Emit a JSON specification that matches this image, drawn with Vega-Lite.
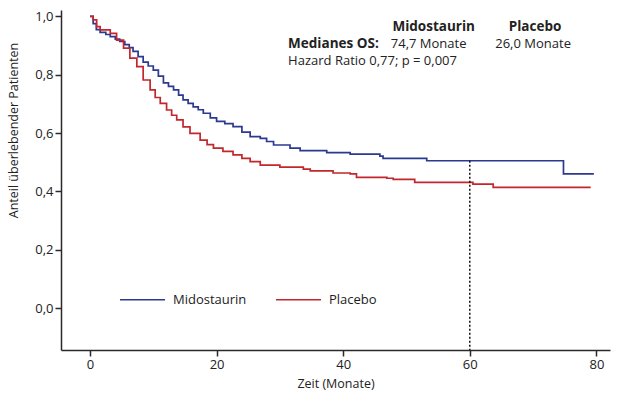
{
  "$schema": "https://vega.github.io/schema/vega-lite/v6.json",
  "width": 549,
  "height": 340,
  "autosize": {"type": "none"},
  "padding": {"left": 61, "top": 10, "right": 10, "bottom": 46},
  "background": "white",
  "config": {
    "view": {"stroke": null},
    "font": "Open Sans",
    "axis": {
      "grid": false,
      "domainColor": "#2a2a2a",
      "tickColor": "#2a2a2a",
      "domainWidth": 1.5,
      "tickWidth": 1.5,
      "tickSize": 6,
      "labelFont": "Open Sans",
      "labelFontSize": 13,
      "labelColor": "#222222",
      "titleFont": "Open Sans",
      "titleFontSize": 12.5,
      "titleFontWeight": "normal",
      "titleColor": "#222222"
    }
  },
  "layer": [
    {
      "data": {
        "values": [
          {"t": 0, "s": 1.0, "g": "Midostaurin"},
          {"t": 0.5, "s": 0.975, "g": "Midostaurin"},
          {"t": 1.0, "s": 0.955, "g": "Midostaurin"},
          {"t": 1.6, "s": 0.945, "g": "Midostaurin"},
          {"t": 2.5, "s": 0.938, "g": "Midostaurin"},
          {"t": 3.2, "s": 0.931, "g": "Midostaurin"},
          {"t": 4.0, "s": 0.922, "g": "Midostaurin"},
          {"t": 4.7, "s": 0.914, "g": "Midostaurin"},
          {"t": 5.5, "s": 0.903, "g": "Midostaurin"},
          {"t": 6.2, "s": 0.893, "g": "Midostaurin"},
          {"t": 6.8, "s": 0.880, "g": "Midostaurin"},
          {"t": 7.6, "s": 0.862, "g": "Midostaurin"},
          {"t": 8.4, "s": 0.843, "g": "Midostaurin"},
          {"t": 9.2, "s": 0.830, "g": "Midostaurin"},
          {"t": 10.0, "s": 0.816, "g": "Midostaurin"},
          {"t": 10.8, "s": 0.795, "g": "Midostaurin"},
          {"t": 11.6, "s": 0.772, "g": "Midostaurin"},
          {"t": 12.4, "s": 0.760, "g": "Midostaurin"},
          {"t": 13.2, "s": 0.748, "g": "Midostaurin"},
          {"t": 14.0, "s": 0.730, "g": "Midostaurin"},
          {"t": 14.7, "s": 0.714, "g": "Midostaurin"},
          {"t": 15.5, "s": 0.702, "g": "Midostaurin"},
          {"t": 16.3, "s": 0.690, "g": "Midostaurin"},
          {"t": 17.1, "s": 0.680, "g": "Midostaurin"},
          {"t": 17.9, "s": 0.668, "g": "Midostaurin"},
          {"t": 19.0, "s": 0.652, "g": "Midostaurin"},
          {"t": 20.0, "s": 0.640, "g": "Midostaurin"},
          {"t": 21.3, "s": 0.632, "g": "Midostaurin"},
          {"t": 22.6, "s": 0.622, "g": "Midostaurin"},
          {"t": 24.0, "s": 0.603, "g": "Midostaurin"},
          {"t": 25.3, "s": 0.588, "g": "Midostaurin"},
          {"t": 26.9, "s": 0.582, "g": "Midostaurin"},
          {"t": 27.9, "s": 0.571, "g": "Midostaurin"},
          {"t": 29.0, "s": 0.559, "g": "Midostaurin"},
          {"t": 31.6, "s": 0.548, "g": "Midostaurin"},
          {"t": 33.2, "s": 0.540, "g": "Midostaurin"},
          {"t": 37.4, "s": 0.533, "g": "Midostaurin"},
          {"t": 41.1, "s": 0.528, "g": "Midostaurin"},
          {"t": 45.8, "s": 0.521, "g": "Midostaurin"},
          {"t": 46.3, "s": 0.513, "g": "Midostaurin"},
          {"t": 53.2, "s": 0.505, "g": "Midostaurin"},
          {"t": 74.8, "s": 0.460, "g": "Midostaurin"},
          {"t": 79.6, "s": 0.460, "g": "Midostaurin"},
          {"t": 0, "s": 1.0, "g": "Placebo"},
          {"t": 0.5, "s": 0.988, "g": "Placebo"},
          {"t": 1.05, "s": 0.965, "g": "Placebo"},
          {"t": 1.6, "s": 0.954, "g": "Placebo"},
          {"t": 3.2, "s": 0.942, "g": "Placebo"},
          {"t": 4.2, "s": 0.919, "g": "Placebo"},
          {"t": 5.3, "s": 0.891, "g": "Placebo"},
          {"t": 6.3, "s": 0.857, "g": "Placebo"},
          {"t": 7.4, "s": 0.828, "g": "Placebo"},
          {"t": 8.4, "s": 0.782, "g": "Placebo"},
          {"t": 9.5, "s": 0.748, "g": "Placebo"},
          {"t": 10.3, "s": 0.722, "g": "Placebo"},
          {"t": 11.1, "s": 0.702, "g": "Placebo"},
          {"t": 12.1, "s": 0.679, "g": "Placebo"},
          {"t": 12.9, "s": 0.661, "g": "Placebo"},
          {"t": 13.7, "s": 0.645, "g": "Placebo"},
          {"t": 14.7, "s": 0.621, "g": "Placebo"},
          {"t": 15.8, "s": 0.599, "g": "Placebo"},
          {"t": 17.4, "s": 0.576, "g": "Placebo"},
          {"t": 18.5, "s": 0.560, "g": "Placebo"},
          {"t": 19.5, "s": 0.548, "g": "Placebo"},
          {"t": 21.0, "s": 0.537, "g": "Placebo"},
          {"t": 22.6, "s": 0.525, "g": "Placebo"},
          {"t": 24.0, "s": 0.513, "g": "Placebo"},
          {"t": 25.3, "s": 0.502, "g": "Placebo"},
          {"t": 26.9, "s": 0.490, "g": "Placebo"},
          {"t": 30.0, "s": 0.483, "g": "Placebo"},
          {"t": 33.7, "s": 0.476, "g": "Placebo"},
          {"t": 34.8, "s": 0.470, "g": "Placebo"},
          {"t": 38.4, "s": 0.463, "g": "Placebo"},
          {"t": 41.1, "s": 0.460, "g": "Placebo"},
          {"t": 42.1, "s": 0.448, "g": "Placebo"},
          {"t": 46.9, "s": 0.445, "g": "Placebo"},
          {"t": 47.9, "s": 0.441, "g": "Placebo"},
          {"t": 51.3, "s": 0.431, "g": "Placebo"},
          {"t": 60.5, "s": 0.425, "g": "Placebo"},
          {"t": 63.7, "s": 0.414, "g": "Placebo"},
          {"t": 79.1, "s": 0.414, "g": "Placebo"}
        ]
      },
      "mark": {"type": "line", "interpolate": "step-after", "strokeWidth": 1.7},
      "encoding": {
        "x": {
          "field": "t", "type": "quantitative",
          "scale": {"domain": [-4.58, 82.15], "nice": false, "zero": false},
          "axis": {"values": [0, 20, 40, 60, 80], "title": "Zeit (Monate)", "labelPadding": 2, "titlePadding": 6}
        },
        "y": {
          "field": "s", "type": "quantitative",
          "scale": {"domain": [-0.144, 1.022], "nice": false, "zero": false},
          "axis": {
            "values": [0, 0.2, 0.4, 0.6, 0.8, 1.0],
            "labelExpr": "replace(format(datum.value, '.1f'), '.', ',')",
            "labelPadding": 2,
            "title": "Anteil überlebender Patienten",
            "titleX": -48,
            "titleY": 120,
            "titleAlign": "center",
            "titleBaseline": "middle",
            "titleAngle": -90
          }
        },
        "color": {
          "field": "g", "type": "nominal",
          "scale": {"domain": ["Midostaurin", "Placebo"], "range": ["#2b3990", "#c1272d"]},
          "legend": {
            "title": null,
            "orient": "none",
            "direction": "horizontal",
            "legendX": 58,
            "legendY": 266,
            "padding": 0,
            "symbolType": "stroke",
            "symbolSize": 2025,
            "symbolStrokeWidth": 1.7,
            "labelOffset": 7,
            "columnPadding": 25,
            "labelFontSize": 13,
            "labelColor": "#222222",
            "labelFont": "Open Sans"
          }
        }
      }
    },
    {
      "data": {"values": [{"t": 60, "s": 0.505, "s2": -0.144}]},
      "mark": {"type": "rule", "strokeDash": [2, 2], "strokeWidth": 1.5, "color": "#111111"},
      "encoding": {
        "x": {"field": "t", "type": "quantitative"},
        "y": {"field": "s", "type": "quantitative"},
        "y2": {"field": "s2"}
      }
    },
    {
      "data": {
        "values": [
          {"t": 54.3, "s": 0.964, "txt": "Midostaurin"},
          {"t": 70.3, "s": 0.964, "txt": "Placebo"}
        ]
      },
      "mark": {"type": "text", "fontWeight": "bold", "fontSize": 13.5, "align": "center", "baseline": "middle", "color": "#222222"},
      "encoding": {
        "x": {"field": "t", "type": "quantitative"},
        "y": {"field": "s", "type": "quantitative"},
        "text": {"field": "txt"}
      }
    },
    {
      "data": {"values": [{"t": 31.3, "s": 0.906, "txt": "Medianes OS:"}]},
      "mark": {"type": "text", "fontWeight": "bold", "fontSize": 13.5, "align": "left", "baseline": "middle", "color": "#222222"},
      "encoding": {
        "x": {"field": "t", "type": "quantitative"},
        "y": {"field": "s", "type": "quantitative"},
        "text": {"field": "txt"}
      }
    },
    {
      "data": {
        "values": [
          {"t": 53.5, "s": 0.906, "txt": "74,7 Monate"},
          {"t": 70.0, "s": 0.906, "txt": "26,0 Monate"}
        ]
      },
      "mark": {"type": "text", "fontSize": 13, "align": "center", "baseline": "middle", "color": "#222222"},
      "encoding": {
        "x": {"field": "t", "type": "quantitative"},
        "y": {"field": "s", "type": "quantitative"},
        "text": {"field": "txt"}
      }
    },
    {
      "data": {"values": [{"t": 31.3, "s": 0.847, "txt": "Hazard Ratio 0,77; p = 0,007"}]},
      "mark": {"type": "text", "fontSize": 13, "align": "left", "baseline": "middle", "color": "#222222"},
      "encoding": {
        "x": {"field": "t", "type": "quantitative"},
        "y": {"field": "s", "type": "quantitative"},
        "text": {"field": "txt"}
      }
    }
  ]
}
